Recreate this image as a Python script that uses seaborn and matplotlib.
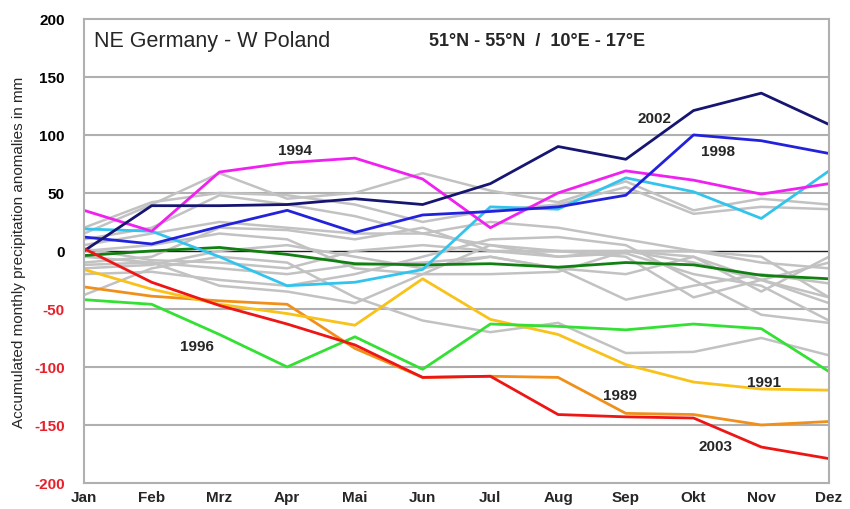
import pandas as pd
import matplotlib.pyplot as plt
import seaborn as sns
import numpy as np

months = ['Jan', 'Feb', 'Mrz', 'Apr', 'Mai', 'Jun', 'Jul', 'Aug', 'Sep', 'Okt', 'Nov', 'Dez']

# highlighted years (accumulated anomalies, mm)
y2002 = [0, 39, 39, 40, 45, 40, 58, 90, 79, 121, 136, 109]
y1998 = [12, 6, 21, 35, 16, 31, 34, 38, 48, 100, 95, 84]
y1994 = [35, 17, 68, 76, 80, 62, 20, 50, 69, 61, 49, 58]
cyan_yr = [19, 17, -5, -30, -27, -16, 38, 36, 63, 51, 28, 69]
mean_yr = [-4, 0, 3, -3, -11, -12, -11, -14, -10, -12, -21, -24]
y2003 = [2, -27, -47, -63, -81, -109, -108, -141, -143, -144, -169, -179]
y1989 = [-31, -39, -43, -46, -84, -109, -108, -109, -140, -141, -150, -147]
y1991 = [-16, -33, -46, -54, -64, -24, -59, -72, -98, -113, -119, -120]
y1996 = [-42, -46, -72, -100, -74, -102, -63, -65, -68, -63, -67, -104]

# remaining years (grey)
g1 = [15, 40, 67, 45, 50, 67, 52, 42, 60, 35, 45, 40]
g2 = [20, 42, 50, 48, 40, 25, 35, 40, 55, 32, 38, 36]
g3 = [10, 20, 48, 40, 30, 15, 25, 20, 10, 0, -5, -40]
g4 = [5, 15, 25, 20, 15, 15, 5, 0, 0, -10, -25, -40]
g5 = [-10, -5, 20, 18, 10, 20, 0, -5, -2, -20, -30, -60]
g6 = [-15, -12, 0, 5, -5, -15, -5, -15, -20, -5, -35, -5]
g7 = [-20, -18, -25, -30, -20, -5, 10, 12, 5, -25, -55, -62]
g8 = [-38, -15, -5, -10, -40, -60, -70, -62, -88, -87, -75, -90]
g9 = [-12, -10, -15, -20, -12, -10, -5, -15, -42, -30, -20, -28]
g10 = [0, 5, 15, 10, -15, -20, -20, -18, 0, -5, -25, -45]
g11 = [-5, -10, -30, -35, -45, -20, 5, -5, 0, 0, -10, -15]
g12 = [2, -8, -10, -15, 0, 5, 0, 0, -5, -40, -25, -10]

grey = {'g1': g1, 'g2': g2, 'g3': g3, 'g4': g4, 'g5': g5, 'g6': g6,
        'g7': g7, 'g8': g8, 'g9': g9, 'g10': g10, 'g11': g11, 'g12': g12}
colored = {'mean': mean_yr, '1989': y1989, '1991': y1991, '1996': y1996,
           'cyan': cyan_yr, '1994': y1994, '1998': y1998, '2002': y2002, '2003': y2003}
colors = {'mean': '#118011', '1989': '#f0901a', '1991': '#f8c218', '1996': '#33e033',
          'cyan': '#33c4ee', '1994': '#f020f0', '1998': '#2222dd', '2002': '#161672',
          '2003': '#ee1515'}

rows = []
for name, vals in list(grey.items()) + list(colored.items()):
    for i, v in enumerate(vals):
        rows.append({'series': name, 'month': i, 'value': v})
df = pd.DataFrame(rows)

palette = {k: '#c2c2c2' for k in grey}
palette.update(colors)

sns.set_style('white')
plt.rcParams['font.family'] = ['Liberation Sans', 'DejaVu Sans']
fig = plt.figure(figsize=(8.5, 5.1), dpi=100)
ax = fig.add_axes([0.0988, 0.051, 0.8765, 0.910])

for v in range(-150, 200, 50):
    if v != 0:
        ax.axhline(v, color='#b0b0b0', lw=1.5, zorder=0)
ax.axhline(0, color='#222222', lw=1.0, zorder=0.5)

sns.lineplot(data=df[df['series'].isin(grey)], x='month', y='value', hue='series',
             palette=palette, linewidth=1.8, legend=False, ax=ax, zorder=1)
sns.lineplot(data=df[df['series'].isin(colored)], x='month', y='value', hue='series',
             hue_order=list(colored), palette=palette, linewidth=2.0, legend=False,
             ax=ax, zorder=2)

ax.set_xlim(0, 11)
ax.set_ylim(-200, 200)
ax.set_xticks(range(12))
ax.set_xticklabels(months, fontsize=11, fontweight='bold')
ax.set_yticks(range(-200, 201, 50))
ax.set_yticklabels([str(v) for v in range(-200, 201, 50)], fontsize=11, fontweight='bold')
for lab, v in zip(ax.get_yticklabels(), range(-200, 201, 50)):
    lab.set_color('#e8202a' if v < 0 else 'black')
ax.tick_params(axis='y', pad=14, length=0)
ax.tick_params(axis='x', pad=5, length=0)
ax.set_xlabel('')
ax.set_ylabel('Accumulated monthly precipitation anomalies in mm', fontsize=11, labelpad=6)
for s in ax.spines.values():
    s.set_color('#b0b0b0')
    s.set_linewidth(1.5)

ax.text(0.15, 181, 'NE Germany - W Poland', fontsize=15.5, va='center')
ax.text(5.1, 181, '51°N - 55°N  /  10°E - 17°E', fontsize=13, fontweight='bold', va='center')

labels = [('1994', 3.12, 87), ('2002', 8.43, 115), ('1998', 9.36, 86), ('1996', 1.67, -82),
          ('1989', 7.92, -124), ('1991', 10.04, -113), ('2003', 9.33, -168)]
for t, x, y in labels:
    ax.text(x, y, t, fontsize=11, fontweight='bold', ha='center', va='center')

fig.savefig('out.png', dpi=100)
